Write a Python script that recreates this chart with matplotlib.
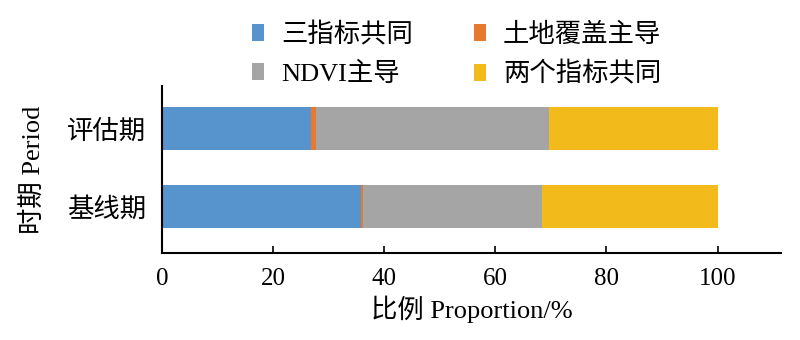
import matplotlib
matplotlib.use('Agg')
import matplotlib.pyplot as plt
import numpy as np

plt.rcParams['font.family'] = ['Liberation Serif', 'Noto Sans CJK SC']

# data
periods = ['基线期', '评估期']
series_names = ['三指标共同', '土地覆盖主导', 'NDVI主导', '两个指标共同']
three_common = [35.7, 26.8]
landcover_led = [0.5, 0.9]
ndvi_led = [32.2, 42.0]
two_common = [31.6, 30.3]
colors = ['#5793CC', '#E87A2F', '#A5A5A5', '#F3BA1C']

fig = plt.figure(figsize=(8, 3.4), dpi=100)
ax = fig.add_axes([0.203, 0.256, 0.773, 0.491])

y = np.arange(len(periods))
left = np.zeros(len(periods))
handles = []
for vals, name, c in zip([three_common, landcover_led, ndvi_led, two_common], series_names, colors):
    b = ax.barh(y, vals, left=left, height=0.55, color=c, label=name)
    handles.append(b)
    left = left + np.array(vals)

ax.set_xlim(0, 111.4)
ax.set_ylim(-0.59, 1.55)
ax.set_xticks([0, 20, 40, 60, 80, 100])
ax.set_yticks(y)
ax.set_yticklabels(periods)
ax.tick_params(axis='x', direction='in', length=5, width=1.2, labelsize=18, pad=11)
ax.tick_params(axis='y', length=0, labelsize=19, pad=12)
for s in ['top', 'right']:
    ax.spines[s].set_visible(False)
for s in ['left', 'bottom']:
    ax.spines[s].set_linewidth(1.5)
    ax.spines[s].set_color('black')

ax.set_xlabel('比例 Proportion/%', fontsize=19, labelpad=4)
ax.set_ylabel('时期 Period', fontsize=19, labelpad=16)

# legend filled column-wise, so reorder to get rows like the reference
order = [0, 2, 1, 3]
fig.legend(handles=[handles[i] for i in order], labels=[series_names[i] for i in order],
           ncol=2, loc='upper center',
           bbox_to_anchor=(0.571, 1.005), frameon=False, fontsize=19,
           handlelength=0.45, handleheight=0.6, handletextpad=0.65,
           columnspacing=2.3, labelspacing=0.55)

fig.savefig('out.png', dpi=100)
